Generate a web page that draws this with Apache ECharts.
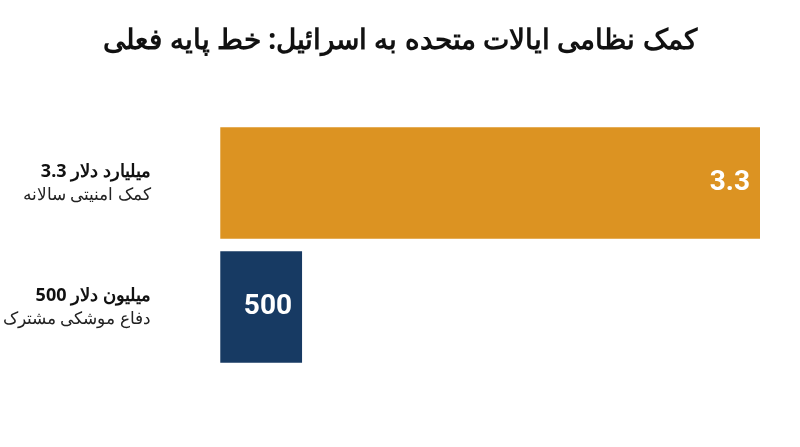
<!DOCTYPE html>
<html><head><meta charset="utf-8">
<script src="https://cdn.jsdelivr.net/npm/echarts@6/dist/echarts.min.js"></script>
<style>html,body{margin:0;padding:0;background:#fff}#c{width:800px;height:447px}</style>
</head><body><div id="c"></div>
<script>
const titleText = 'کمک نظامی ایالات متحده به اسرائیل: خط پایه فعلی';
const categories = ['میلیون دلار 500|دفاع موشکی مشترک', 'میلیارد دلار 3.3|کمک امنیتی سالانه'];
const values = [500, 3300];
const valueLabels = ['500', '3.3'];
const colors = ['#173a63', '#dc9322'];
const chart = echarts.init(document.getElementById('c'));
chart.setOption({
  animation: false,
  title: {text: titleText, left: 'center', top: 22, textStyle: {fontFamily: 'Noto Sans', fontWeight: 'bold', fontSize: 28, color: '#111'}},
  grid: {left: 172, right: 40, top: 121, bottom: 78},
  xAxis: {type: 'value', min: -180, max: 3300, show: false},
  yAxis: {type: 'category', data: categories, axisLine: {show: false}, axisTick: {show: false},
    axisLabel: {margin: 40, align: 'right', formatter: v => { const p = v.split('|'); return '{b|' + p[0] + '}\n{n|' + p[1] + '}'; },
      rich: {b: {fontFamily: 'Noto Sans', fontWeight: 'bold', fontSize: 18, color: '#111', lineHeight: 25, align: 'right'},
             n: {fontFamily: 'Noto Sans', fontSize: 17, color: '#222', lineHeight: 23, align: 'right'}}}},
  series: [{type: 'bar', barCategoryGap: '10%',
    data: values.map((v, i) => ({value: v, itemStyle: {color: colors[i]}})),
    label: {show: true, position: 'insideRight', distance: 10, formatter: p => valueLabels[p.dataIndex],
      color: '#fff', fontFamily: 'Roboto', fontWeight: 'bold', fontSize: 28}}]
});
</script></body></html>
